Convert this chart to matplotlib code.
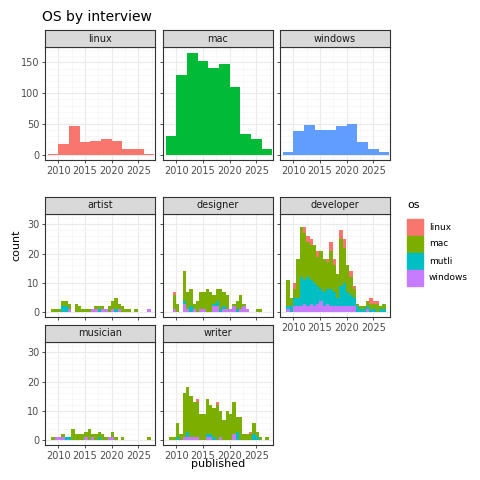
import matplotlib
matplotlib.use("Agg")
import matplotlib.pyplot as plt
import numpy as np

W = H = 480
fig = plt.figure(figsize=(4.8, 4.8), dpi=100)

# top row: yearly histograms (binwidth 2)
top_centers = [2009, 2011, 2013, 2015, 2017, 2019, 2021, 2023, 2025, 2027]
top_linux = [2, 17, 46, 20, 22, 25, 23, 9, 10, 1]
top_mac = [31, 130, 165, 152, 141, 147, 110, 34, 25, 10]
top_windows = [4, 39, 49, 41, 41, 46, 50, 21, 9, 4]

# bottom: stacked histograms by role (30 bins, 2009..2027)
NB = 30
bins = list(np.linspace(2009, 2027, NB))
BW = 18 / (NB - 1)
def pad(v):
    v = v[:NB]
    return v + [0] * (NB - len(v))

roles = ["artist", "designer", "developer", "musician", "writer"]
data = {
 "developer": dict(
  windows=pad([1,0,2,2,2,3,2,3,2,3,4,2,3,2,2,2,2,2,2,2,2,0,0,0,1,0,0,0,0,0]),
  mutli=pad([1,2,3,3,10,8,10,8,8,6,4,5,5,6,5,3,7,8,5,4,3,2,1,1,1,1,1,0,1,1]),
  mac=pad([9,3,3,13,17,16,12,12,13,10,13,11,9,13,9,8,16,12,9,6,3,1,1,1,2,2,2,3,1,2]),
  linux=pad([0,0,2,0,0,2,2,2,0,2,0,0,1,3,2,0,3,3,0,2,1,0,0,0,0,2,1,1,0,0])),
 "designer": dict(
  windows=pad([0,1,0,0,3,1,0,1,0,1,1,0,0,2,2,0,1,1,1,2,0,1,2,1,0,0,0,0,0]),
  mutli=pad([0,0,0,0,1,0,2,0,0,0,0,0,0,1,2,1,1,0,0,0,1,0,0,0,0,0,0,0,0]),
  mac=pad([0,5,3,0,10,6,6,2,4,6,6,8,7,3,4,7,5,5,0,1,3,5,1,0,0,0,1,1,0]),
  linux=pad([0,1,0,0,0,0,0,0,0,0,0,0,0,0,0,0,0,0,0,0,0,0,0,0,0,0,0,0,0])),
 "artist": dict(
  windows=pad([0,0,0,0,0,1,0,0,0,0,0,0,1,1,0,1,1,0,1,0,1,0,0,0,0,0,0,0,0,1]),
  mutli=pad([0,0,0,2,2,0,0,0,0,0,0,0,0,0,1,0,0,0,0,1,0,0,0,0,0,0,0,0,0,0]),
  mac=pad([1,1,1,2,2,2,0,3,2,1,1,1,0,1,1,1,0,2,3,4,2,2,1,1,0,1,0,0,0,0]),
  linux=pad([0]*10)),
 "musician": dict(
  windows=pad([0,1,1,1,0,0,0,0,0,0,1,0,1,0,0,0,0,1,1,0,0,0,0,0,0,0,0,0,0,0]),
  mutli=pad([0,0,0,0,1,1,0,0,0,0,0,0,0,0,1,0,0,0,0,0,0,0,0,0,0,0,0,0,0,0]),
  mac=pad([1,0,0,1,0,0,4,2,2,2,2,4,1,2,2,2,1,0,2,1,0,1,0,0,0,0,0,0,0,1]),
  linux=pad([0]*10)),
 "writer": dict(
  windows=pad([0,0,0,0,1,1,1,1,1,0,0,1,1,0,0,1,0,0,0,2,0,0,0,0,0,0,0,0,0,0]),
  mutli=pad([0,0,1,0,0,2,0,0,0,0,0,1,1,1,0,0,0,0,0,0,3,0,0,0,0,2,1,0,0,0]),
  mac=pad([1,1,5,2,15,15,14,12,12,9,9,12,10,10,12,9,7,10,9,11,5,8,2,2,2,4,2,1,0,1]),
  linux=pad([0,0,0,0,0,0,0,0,1,0,0,0,0,0,1,0,0,0,0,0,0,0,0,0,1,0,0,0,0,0])),
}
os_order = ["windows", "mutli", "mac", "linux"]
cols = {"linux": "#F8766D", "mac": "#7CAE00", "mutli": "#00BFC4", "windows": "#C77CFF"}
top_cols = {"linux": "#F8766D", "mac": "#00BA38", "windows": "#619CFF"}

def ax_px(x0, y0, x1, y1):
    return fig.add_axes([x0 / W, 1 - y1 / H, (x1 - x0) / W, (y1 - y0) / H])

def style(ax, label, showy, showx, strip_h=17):
    ax.set_facecolor("white")
    for s in ax.spines.values():
        s.set_color("#333333"); s.set_linewidth(0.8)
    ax.grid(True, color="#EBEBEB", lw=0.8)
    ax.minorticks_on()
    ax.grid(True, which="minor", color="#F5F5F5", lw=0.5)
    ax.set_axisbelow(True)
    ax.tick_params(which="minor", length=0)
    ax.tick_params(colors="#333333", labelcolor="#4D4D4D", labelsize=7, length=2.5, width=0.6, pad=1.5)
    if not showy: ax.tick_params(axis="y", labelleft=False)
    if not showx: ax.tick_params(axis="x", labelbottom=False)
    ax.set_xlim(2007.9, 2028.1)
    ax.set_xticks([2010, 2015, 2020, 2025])
    ax.set_xticks(np.arange(2007.5, 2028, 2.5), minor=True)
    pos = ax.get_position()
    st = fig.add_axes([pos.x0, pos.y1, pos.width, strip_h / H])
    st.set_facecolor("#D9D9D9"); st.set_xticks([]); st.set_yticks([])
    for s in st.spines.values():
        s.set_color("#333333"); s.set_linewidth(0.8)
    st.text(0.5, 0.5, label, ha="center", va="center", fontsize=7, color="#1A1A1A", transform=st.transAxes)

xs_top = [(45, 155), (163, 273), (280, 390)]
for (x0, x1), name, vals in zip(xs_top, ["linux", "mac", "windows"], [top_linux, top_mac, top_windows]):
    ax = ax_px(x0, 47, x1, 160)
    ax.bar(top_centers, vals, width=2, color=top_cols[name], linewidth=0)
    ax.set_ylim(-8.5, 175)
    ax.set_yticks([0, 50, 100, 150])
    ax.set_yticks([25, 75, 125, 175], minor=True)
    style(ax, name, x0 == 45, True)

layout = {"artist": (45, 214, 155, 317, True, False), "designer": (163, 214, 273, 317, False, False),
          "developer": (280, 214, 390, 317, False, True), "musician": (45, 342, 155, 445, True, True),
          "writer": (163, 342, 273, 445, False, True)}
for r in roles:
    x0, y0, x1, y1, sy, sx = layout[r]
    ax = ax_px(x0, y0, x1, y1)
    bottom = np.zeros(NB)
    for o in os_order:
        v = np.array(data[r][o])
        ax.bar(bins, v, width=BW, bottom=bottom, color=cols[o], linewidth=0)
        bottom += v
    ax.set_ylim(-1.6, 33.5)
    ax.set_yticks([0, 10, 20, 30])
    ax.set_yticks([5, 15, 25], minor=True)
    style(ax, r, sy, sx)

fig.text(42 / W, 1 - 17 / H, "OS by interview", fontsize=10, va="center", color="black")
fig.text(218 / W, 1 - 464 / H, "published", fontsize=8, ha="center", va="center")
fig.text(16 / W, 1 - 245 / H, "count", fontsize=8, rotation=90, ha="center", va="center")
fig.text(407 / W, 1 - 205 / H, "os", fontsize=8, va="center")
for i, o in enumerate(["linux", "mac", "mutli", "windows"]):
    yc = 227 + i * 17
    fig.patches.append(plt.Rectangle((407 / W, 1 - (yc + 8) / H), 16 / W, 16 / H,
                                     transform=fig.transFigure, color=cols[o]))
    fig.text(429 / W, 1 - yc / H, o, fontsize=6.5, va="center")

fig.savefig("out.png", dpi=100, facecolor="white")
